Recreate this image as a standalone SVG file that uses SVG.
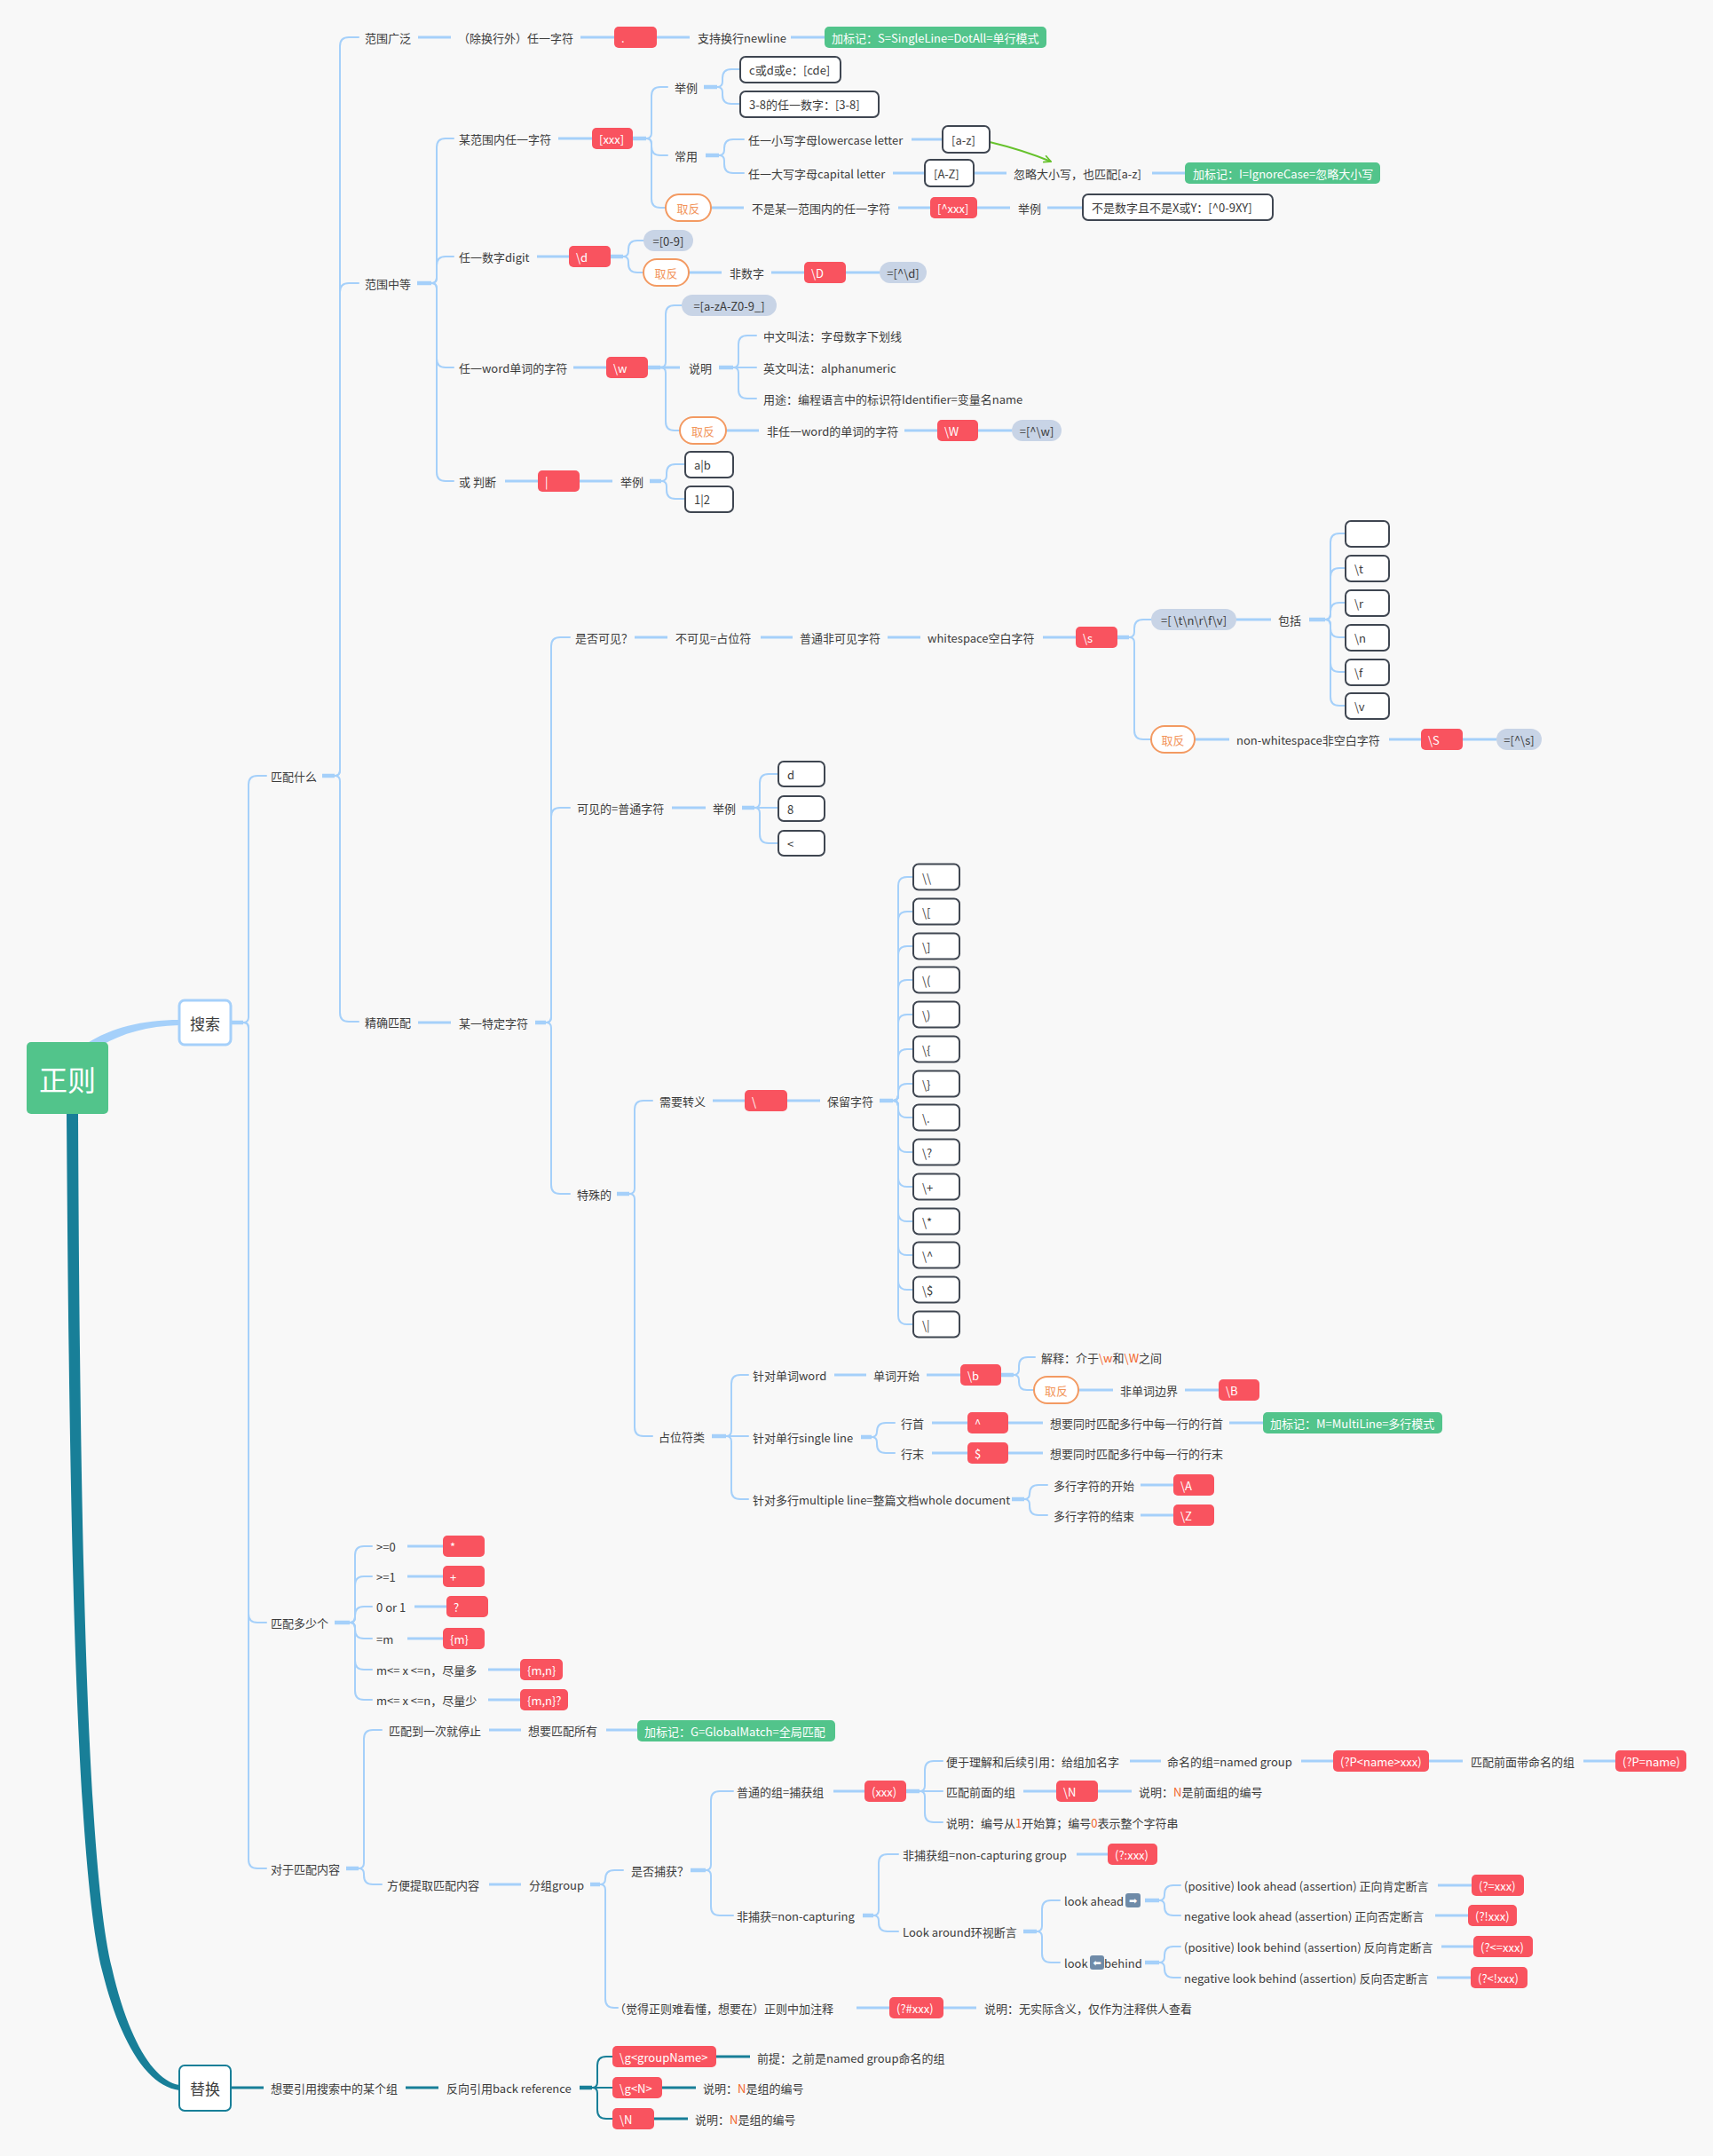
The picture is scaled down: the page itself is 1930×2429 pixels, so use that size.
<svg xmlns="http://www.w3.org/2000/svg" width="1930" height="2429" viewBox="0 0 1930 2429">
<defs>
<style>
text{font-family:"Noto Sans CJK SC","Noto Sans",sans-serif;font-size:13px;fill:#3c3c3c;dominant-baseline:central}
.w{fill:#fff}
.o{fill:#F2955B}
.hl{fill:#F2652B}
.m{text-anchor:middle}
.rb{fill:#F9535F}
.ob{fill:#fff;stroke:#3F4651;stroke-width:2}
.gp{fill:#C8D4E6}
.op{fill:#fff;stroke:#F39A62;stroke-width:2}
.gn{fill:#52C48B}
.ic{fill:#6F8BA8}
.c{fill:none;stroke:#A5D0FA;stroke-width:2;stroke-linecap:round}
.l{fill:none;stroke:#A5D0FA;stroke-width:3}
.s{fill:none;stroke:#A5D0FA;stroke-width:4.5}
.tc{stroke:#187F98}
</style>
<marker id="ga" viewBox="0 0 10 10" refX="9" refY="5" markerWidth="10" markerHeight="10" markerUnits="userSpaceOnUse" orient="auto"><path d="M1 1 L9 5 L1 9" fill="none" stroke="#66C22C" stroke-width="1.8"/></marker>
</defs>
<rect width="1930" height="2429" fill="#F8F8F8"/>

<g id="connectors">
<path d="M97 1176 C125 1158 160 1149 202 1149 L202 1155 C166 1156 138 1164 114 1178 Z" fill="#A5D0FA"/>
<path d="M75 1255 C78 1700 85 2100 115 2220 C135 2300 165 2350 202 2355 L202 2349 C172 2344 144 2296 126 2217 C97 2100 90 1700 88 1255 Z" fill="#187F98"/>
<!-- 搜索 -->
<path class="s" d="M260 1152 H274"/>
<path class="c" d="M274 1152 Q280 1152 280 1146 V884 Q280 874 290 874 H300"/>
<path class="c" d="M274 1152 Q280 1152 280 1158 V1818 Q280 1828 290 1828 H300"/>
<path class="c" d="M274 1152 Q280 1152 280 1158 V2095 Q280 2105 290 2105 H300"/>
<!-- 匹配什么 -->
<path class="s" d="M363 874 H377"/>
<path class="c" d="M377 874 Q383 874 383 868 V52 Q383 42 393 42 H404"/>
<path class="c" d="M377 874 Q383 874 383 868 V329 Q383 319 393 319 H404"/>
<path class="c" d="M377 874 Q383 874 383 880 V1141 Q383 1151 393 1151 H404"/>
<!-- 范围广泛 row -->
<path class="l" d="M471 42 H508"/>
<path class="l" d="M654 42 H692"/>
<path class="l" d="M740 42 H777"/>
<path class="l" d="M891 42 H929"/>
<!-- 范围中等 -->
<path class="s" d="M470 319 H486"/>
<path class="c" d="M486 319 Q492 319 492 313 V166 Q492 156 502 156 H511"/>
<path class="c" d="M486 319 Q492 319 492 313 V299 Q492 289 502 289 H511"/>
<path class="c" d="M486 319 Q492 319 492 325 V404 Q492 414 502 414 H511"/>
<path class="c" d="M486 319 Q492 319 492 325 V532 Q492 542 502 542 H511"/>
<!-- [xxx] -->
<path class="l" d="M629 156 H667"/>
<path class="s" d="M713 156 H728"/>
<path class="c" d="M728 156 Q734 156 734 150 V108 Q734 98 744 98 H752"/>
<path class="c" d="M728 156 Q734 156 734 162 V165 Q734 175 744 175 H752"/>
<path class="c" d="M728 156 Q734 156 734 162 V224 Q734 234 744 234 H750"/>
<path class="s" d="M793 98 H808"/>
<path class="c" d="M808 98 Q814 98 814 92 V88 Q814 78 824 78 H834"/>
<path class="c" d="M808 98 Q814 98 814 104 V107 Q814 117 824 117 H834"/>
<path class="s" d="M795 175 H810"/>
<path class="c" d="M810 175 Q816 175 816 169 V167 Q816 157 826 157 H838"/>
<path class="c" d="M810 175 Q816 175 816 181 V185 Q816 195 826 195 H838"/>
<path class="l" d="M1027 157 H1062"/>
<path class="l" d="M1006 195 H1042"/>
<path class="l" d="M1097 195 H1134"/>
<path class="l" d="M1298 195 H1335"/>
<path d="M1115 160 C1140 166 1160 172 1184 182" fill="none" stroke="#66C22C" stroke-width="2" marker-end="url(#ga)"/>
<path class="l" d="M801 234 H838"/>
<path class="l" d="M1012 234 H1048"/>
<path class="l" d="M1101 234 H1138"/>
<path class="l" d="M1180 234 H1220"/>
<!-- \d -->
<path class="l" d="M605 289 H641"/>
<path class="s" d="M688 289 H702"/>
<path class="c" d="M702 289 Q708 289 708 283 V281 Q708 271 718 271 H725"/>
<path class="c" d="M702 289 Q708 289 708 295 V297 Q708 307 718 307 H725"/>
<path class="l" d="M776 307 H813"/>
<path class="l" d="M869 307 H906"/>
<path class="l" d="M953 307 H991"/>
<!-- \w -->
<path class="l" d="M646 414 H683"/>
<path class="s" d="M730 414 H744"/>
<path class="c" d="M744 414 Q750 414 750 408 V354 Q750 344 760 344 H768"/>
<path class="l" d="M744 414 H766"/>
<path class="c" d="M744 414 Q750 414 750 420 V475 Q750 485 760 485 H766"/>
<path class="s" d="M810 414 H826"/>
<path class="c" d="M826 414 Q832 414 832 408 V388 Q832 378 842 378 H852"/>
<path class="c" d="M826 414 H852"/>
<path class="c" d="M826 414 Q832 414 832 420 V439 Q832 449 842 449 H852"/>
<path class="l" d="M818 485 H855"/>
<path class="l" d="M1019 485 H1056"/>
<path class="l" d="M1102 485 H1140"/>
<!-- 或 判断 -->
<path class="l" d="M569 542 H606"/>
<path class="l" d="M653 542 H690"/>
<path class="s" d="M732 542 H745"/>
<path class="c" d="M745 542 Q751 542 751 536 V533 Q751 523 761 523 H772"/>
<path class="c" d="M745 542 Q751 542 751 548 V552 Q751 562 761 562 H772"/>
<!-- 精确匹配 -->
<path class="l" d="M471 1152 H508"/>
<path class="s" d="M603 1152 H615"/>
<path class="c" d="M615 1152 Q621 1152 621 1146 V728 Q621 718 631 718 H642"/>
<path class="c" d="M615 1152 Q621 1152 621 1146 V920 Q621 910 631 910 H642"/>
<path class="c" d="M615 1152 Q621 1152 621 1158 V1335 Q621 1345 631 1345 H642"/>
<!-- 是否可见 -->
<path class="l" d="M715 718 H752"/>
<path class="l" d="M857 718 H893"/>
<path class="l" d="M1000 718 H1037"/>
<path class="l" d="M1175 718 H1212"/>
<path class="s" d="M1259 718 H1272"/>
<path class="c" d="M1272 718 Q1278 718 1278 712 V708 Q1278 698 1288 698 H1297"/>
<path class="c" d="M1272 718 Q1278 718 1278 724 V823 Q1278 833 1288 833 H1297"/>
<path class="l" d="M1393 698 H1432"/>
<path class="s" d="M1475 698 H1493"/>
<path class="c" d="M1493 698 Q1499 698 1499 692 V611 Q1499 601 1509 601 H1516"/>
<path class="c" d="M1493 698 Q1499 698 1499 692 V650 Q1499 640 1509 640 H1516"/>
<path class="c" d="M1493 698 Q1499 698 1499 692 V689 Q1499 679 1509 679 H1516"/>
<path class="c" d="M1493 698 Q1499 698 1499 704 V708 Q1499 718 1509 718 H1516"/>
<path class="c" d="M1493 698 Q1499 698 1499 704 V747 Q1499 757 1509 757 H1516"/>
<path class="c" d="M1493 698 Q1499 698 1499 704 V785 Q1499 795 1509 795 H1516"/>
<path class="l" d="M1346 833 H1385"/>
<path class="l" d="M1565 833 H1601"/>
<path class="l" d="M1648 833 H1686"/>
<!-- 可见的 -->
<path class="l" d="M757 910 H795"/>
<path class="s" d="M836 910 H850"/>
<path class="c" d="M850 910 Q856 910 856 904 V882 Q856 872 866 872 H877"/>
<path class="c" d="M850 910 H877"/>
<path class="c" d="M850 910 Q856 910 856 916 V940 Q856 950 866 950 H877"/>
<!-- 特殊的 -->
<path class="s" d="M695 1345 H709"/>
<path class="c" d="M709 1345 Q715 1345 715 1339 V1250 Q715 1240 725 1240 H735"/>
<path class="c" d="M709 1345 Q715 1345 715 1351 V1608 Q715 1618 725 1618 H735"/>
<path class="l" d="M803 1240 H839"/>
<path class="l" d="M887 1240 H924"/>
<path class="s" d="M991 1240 H1006"/>
<path class="c" d="M1006 1240 Q1012 1240 1012 1234 V998 Q1012 988 1022 988 H1029"/>
<path class="c" d="M1006 1240 Q1012 1240 1012 1234 V1037 Q1012 1027 1022 1027 H1029"/>
<path class="c" d="M1006 1240 Q1012 1240 1012 1234 V1076 Q1012 1066 1022 1066 H1029"/>
<path class="c" d="M1006 1240 Q1012 1240 1012 1234 V1114 Q1012 1104 1022 1104 H1029"/>
<path class="c" d="M1006 1240 Q1012 1240 1012 1234 V1153 Q1012 1143 1022 1143 H1029"/>
<path class="c" d="M1006 1240 Q1012 1240 1012 1234 V1192 Q1012 1182 1022 1182 H1029"/>
<path class="c" d="M1006 1240 Q1012 1240 1012 1234 V1231 Q1012 1221 1022 1221 H1029"/>
<path class="c" d="M1006 1240 Q1012 1240 1012 1246 V1249 Q1012 1259 1022 1259 H1029"/>
<path class="c" d="M1006 1240 Q1012 1240 1012 1246 V1288 Q1012 1298 1022 1298 H1029"/>
<path class="c" d="M1006 1240 Q1012 1240 1012 1246 V1327 Q1012 1337 1022 1337 H1029"/>
<path class="c" d="M1006 1240 Q1012 1240 1012 1246 V1366 Q1012 1376 1022 1376 H1029"/>
<path class="c" d="M1006 1240 Q1012 1240 1012 1246 V1404 Q1012 1414 1022 1414 H1029"/>
<path class="c" d="M1006 1240 Q1012 1240 1012 1246 V1443 Q1012 1453 1022 1453 H1029"/>
<path class="c" d="M1006 1240 Q1012 1240 1012 1246 V1482 Q1012 1492 1022 1492 H1029"/>
<!-- 占位符类 -->
<path class="s" d="M802 1618 H818"/>
<path class="c" d="M818 1618 Q824 1618 824 1612 V1559 Q824 1549 834 1549 H843"/>
<path class="c" d="M818 1618 H843"/>
<path class="c" d="M818 1618 Q824 1618 824 1624 V1679 Q824 1689 834 1689 H843"/>
<path class="l" d="M940 1549 H976"/>
<path class="l" d="M1044 1549 H1082"/>
<path class="s" d="M1128 1549 H1142"/>
<path class="c" d="M1142 1549 Q1148 1549 1148 1543 V1539 Q1148 1529 1158 1529 H1166"/>
<path class="c" d="M1142 1549 Q1148 1549 1148 1555 V1557 Q1148 1566 1157 1566 H1165"/>
<path class="l" d="M1215 1566 H1254"/>
<path class="l" d="M1335 1566 H1373"/>
<path class="s" d="M970 1619 H982"/>
<path class="c" d="M982 1619 Q988 1619 988 1613 Q988 1603 998 1603 H1008"/>
<path class="c" d="M982 1619 Q988 1619 988 1625 V1627 Q988 1637 998 1637 H1008"/>
<path class="l" d="M1050 1603 H1090"/>
<path class="l" d="M1136 1603 H1175"/>
<path class="l" d="M1385 1603 H1423"/>
<path class="l" d="M1050 1637 H1090"/>
<path class="l" d="M1136 1637 H1175"/>
<path class="s" d="M1140 1689 H1154"/>
<path class="c" d="M1154 1689 Q1160 1689 1160 1683 Q1160 1673 1170 1673 H1180"/>
<path class="c" d="M1154 1689 Q1160 1689 1160 1695 V1697 Q1160 1707 1170 1707 H1180"/>
<path class="l" d="M1285 1673 H1322"/>
<path class="l" d="M1285 1707 H1322"/>
<!-- 匹配多少个 -->
<path class="s" d="M377 1828 H394"/>
<path class="c" d="M394 1828 Q400 1828 400 1822 V1752 Q400 1742 410 1742 H419"/>
<path class="c" d="M394 1828 Q400 1828 400 1822 V1786 Q400 1776 410 1776 H419"/>
<path class="c" d="M394 1828 Q400 1828 400 1822 V1820 Q400 1810 410 1810 H419"/>
<path class="c" d="M394 1828 Q400 1828 400 1834 V1836 Q400 1846 410 1846 H419"/>
<path class="c" d="M394 1828 Q400 1828 400 1834 V1871 Q400 1881 410 1881 H419"/>
<path class="c" d="M394 1828 Q400 1828 400 1834 V1905 Q400 1915 410 1915 H419"/>
<path class="l" d="M459 1742 H499"/>
<path class="l" d="M459 1776 H499"/>
<path class="l" d="M467 1810 H503"/>
<path class="l" d="M459 1846 H499"/>
<path class="l" d="M550 1881 H586"/>
<path class="l" d="M550 1915 H586"/>
<!-- 对于匹配内容 -->
<path class="s" d="M390 2105 H404"/>
<path class="c" d="M404 2105 Q410 2105 410 2099 V1959 Q410 1949 420 1949 H430"/>
<path class="c" d="M404 2105 Q410 2105 410 2111 V2113 Q410 2123 420 2123 H430"/>
<path class="l" d="M551 1949 H587"/>
<path class="l" d="M683 1949 H718"/>
<path class="l" d="M551 2123 H587"/>
<path class="s" d="M665 2123 H676"/>
<path class="c" d="M676 2123 Q682 2123 682 2117 Q682 2107 692 2107 H702"/>
<path class="c" d="M676 2123 Q682 2123 682 2129 V2252 Q682 2262 692 2262 H696"/>
<path class="s" d="M778 2107 H795"/>
<path class="c" d="M795 2107 Q801 2107 801 2101 V2028 Q801 2018 811 2018 H826"/>
<path class="c" d="M795 2107 Q801 2107 801 2113 V2148 Q801 2158 811 2158 H826"/>
<path class="l" d="M939 2018 H974"/>
<path class="s" d="M1021 2018 H1036"/>
<path class="c" d="M1036 2018 Q1042 2018 1042 2012 V1994 Q1042 1984 1052 1984 H1062"/>
<path class="c" d="M1036 2018 H1062"/>
<path class="c" d="M1036 2018 Q1042 2018 1042 2024 V2043 Q1042 2053 1052 2053 H1062"/>
<path class="l" d="M1273 1984 H1308"/>
<path class="l" d="M1466 1984 H1502"/>
<path class="l" d="M1610 1984 H1648"/>
<path class="l" d="M1784 1984 H1820"/>
<path class="l" d="M1153 2018 H1190"/>
<path class="l" d="M1237 2018 H1275"/>
<path class="s" d="M972 2158 H984"/>
<path class="c" d="M984 2158 Q990 2158 990 2152 V2099 Q990 2089 1000 2089 H1012"/>
<path class="c" d="M984 2158 Q990 2158 990 2164 V2166 Q990 2176 1000 2176 H1012"/>
<path class="l" d="M1213 2089 H1248"/>
<path class="s" d="M1153 2176 H1168"/>
<path class="c" d="M1168 2176 Q1174 2176 1174 2170 V2151 Q1174 2141 1184 2141 H1194"/>
<path class="c" d="M1168 2176 Q1174 2176 1174 2182 V2201 Q1174 2211 1184 2211 H1194"/>
<path class="s" d="M1290 2141 H1306"/>
<path class="c" d="M1306 2141 Q1312 2141 1312 2135 V2134 Q1312 2124 1322 2124 H1330"/>
<path class="c" d="M1306 2141 Q1312 2141 1312 2147 V2148 Q1312 2158 1322 2158 H1330"/>
<path class="s" d="M1290 2211 H1306"/>
<path class="c" d="M1306 2211 Q1312 2211 1312 2205 V2203 Q1312 2193 1322 2193 H1330"/>
<path class="c" d="M1306 2211 Q1312 2211 1312 2217 V2218 Q1312 2228 1322 2228 H1330"/>
<path class="l" d="M1620 2124 H1658"/>
<path class="l" d="M1617 2158 H1654"/>
<path class="l" d="M1624 2193 H1660"/>
<path class="l" d="M1619 2228 H1657"/>
<path class="l" d="M965 2262 H1002"/>
<path class="l" d="M1063 2262 H1100"/>
<!-- 替换 -->
<path class="l tc" d="M260 2352 H297"/>
<path class="l tc" d="M457 2352 H494"/>
<path class="s tc" d="M653 2352 H667"/>
<path class="c tc" d="M667 2352 Q673 2352 673 2346 V2327 Q673 2317 683 2317 H690"/>
<path class="c tc" d="M667 2352 H690"/>
<path class="c tc" d="M667 2352 Q673 2352 673 2358 V2377 Q673 2387 683 2387 H690"/>
<path class="l tc" d="M807 2317 H845"/>
<path class="l tc" d="M746 2352 H784"/>
<path class="l tc" d="M737 2387 H775"/>
</g>

<g id="root"><rect x="30" y="1174" width="92" height="81" rx="5" fill="#52C48B"/><text x="76" y="1215" class="w m" style="font-size:32px">正则</text></g>
<g id="search"><rect x="202" y="1127" width="58" height="50" rx="6" fill="#fff" stroke="#A5D0FA" stroke-width="3"/><text x="231" y="1152" class="m" style="font-size:17px">搜索</text></g>
<g id="replace"><rect x="202" y="2327" width="58" height="51" rx="6" fill="#fff" stroke="#187F98" stroke-width="2"/><text x="231" y="2352" class="m" style="font-size:17px">替换</text></g>

<g id="n-what"><text x="305" y="874">匹配什么</text></g>
<g id="n-wide"><text x="411" y="42">范围广泛</text></g>
<g id="n-anychar"><text x="516" y="42">（除换行外）任一字符</text></g>
<g id="n-dot"><rect class="rb" x="692" y="30" width="48" height="24" rx="5"/><text class="w" x="700" y="42">.</text></g>
<g id="n-newline"><text x="786" y="42">支持换行newline</text></g>
<g id="n-tagS"><rect class="gn" x="929" y="30" width="250" height="24" rx="5"/><text class="w" x="937" y="42">加标记：S=SingleLine=DotAll=单行模式</text></g>

<g id="n-mid"><text x="411" y="319">范围中等</text></g>
<g id="n-range"><text x="517" y="156">某范围内任一字符</text></g>
<g id="n-xxx"><rect class="rb" x="667" y="144" width="46" height="24" rx="5"/><text class="w" x="675" y="156">[xxx]</text></g>
<g id="n-eg1"><text x="760" y="98">举例</text></g>
<g id="n-cde"><rect class="ob" x="834" y="64" width="113" height="29" rx="6"/><text x="844" y="78.5">c或d或e：[cde]</text></g>
<g id="n-38"><rect class="ob" x="834" y="103" width="156" height="29" rx="6"/><text x="844" y="117.5">3-8的任一数字：[3-8]</text></g>
<g id="n-common"><text x="760" y="175">常用</text></g>
<g id="n-lower"><text x="843" y="157">任一小写字母lowercase letter</text></g>
<g id="n-upper"><text x="843" y="195">任一大写字母capital letter</text></g>
<g id="n-az"><rect class="ob" x="1062" y="142" width="53" height="30" rx="6"/><text x="1072" y="157">[a-z]</text></g>
<g id="n-AZ"><rect class="ob" x="1042" y="180" width="55" height="30" rx="6"/><text x="1052" y="195">[A-Z]</text></g>
<g id="n-ignore"><text x="1142" y="195">忽略大小写，也匹配[a-z]</text></g>
<g id="n-tagI"><rect class="gn" x="1335" y="183" width="220" height="24" rx="5"/><text class="w" x="1344" y="195">加标记：I=IgnoreCase=忽略大小写</text></g>
<g id="n-neg1"><rect class="op" x="750" y="219" width="51" height="30" rx="15"/><text class="o m" x="775.5" y="234">取反</text></g>
<g id="n-notrange"><text x="847" y="234">不是某一范围内的任一字符</text></g>
<g id="n-nxxx"><rect class="rb" x="1048" y="222" width="53" height="24" rx="5"/><text class="w" x="1056" y="234">[^xxx]</text></g>
<g id="n-eg2"><text x="1147" y="234">举例</text></g>
<g id="n-n09"><rect class="ob" x="1220" y="219" width="214" height="29" rx="6"/><text x="1230" y="233.5">不是数字且不是X或Y：[^0-9XY]</text></g>

<g id="n-digit"><text x="517" y="289">任一数字digit</text></g>
<g id="n-d"><rect class="rb" x="641" y="277" width="47" height="24" rx="5"/><text class="w" x="649" y="289">\d</text></g>
<g id="n-09"><rect class="gp" x="725" y="259" width="56" height="24" rx="12"/><text class="m" x="753" y="271">=[0-9]</text></g>
<g id="n-neg2"><rect class="op" x="725" y="292" width="51" height="30" rx="15"/><text class="o m" x="750.5" y="307">取反</text></g>
<g id="n-nondigit"><text x="822" y="307">非数字</text></g>
<g id="n-D"><rect class="rb" x="906" y="295" width="47" height="24" rx="5"/><text class="w" x="914" y="307">\D</text></g>
<g id="n-nd"><rect class="gp" x="991" y="295" width="53" height="24" rx="12"/><text class="m" x="1017.5" y="307">=[^\d]</text></g>

<g id="n-word"><text x="517" y="414">任一word单词的字符</text></g>
<g id="n-w"><rect class="rb" x="683" y="402" width="47" height="24" rx="5"/><text class="w" x="691" y="414">\w</text></g>
<g id="n-wset"><rect class="gp" x="768" y="332" width="107" height="24" rx="12"/><text class="m" x="821.5" y="344">=[a-zA-Z0-9_]</text></g>
<g id="n-desc"><text x="776" y="414">说明</text></g>
<g id="n-cn"><text x="860" y="378">中文叫法：字母数字下划线</text></g>
<g id="n-en"><text x="860" y="414">英文叫法：alphanumeric</text></g>
<g id="n-use"><text x="860" y="449">用途：编程语言中的标识符Identifier=变量名name</text></g>
<g id="n-neg3"><rect class="op" x="766" y="470" width="52" height="30" rx="15"/><text class="o m" x="792" y="485">取反</text></g>
<g id="n-nonword"><text x="864" y="485">非任一word的单词的字符</text></g>
<g id="n-W"><rect class="rb" x="1056" y="473" width="46" height="24" rx="5"/><text class="w" x="1064" y="485">\W</text></g>
<g id="n-nw"><rect class="gp" x="1140" y="473" width="56" height="24" rx="12"/><text class="m" x="1168" y="485">=[^\w]</text></g>

<g id="n-or"><text x="517" y="542">或 判断</text></g>
<g id="n-bar"><rect class="rb" x="606" y="530" width="47" height="24" rx="5"/><text class="w" x="614" y="542">|</text></g>
<g id="n-eg3"><text x="699" y="542">举例</text></g>
<g id="n-ab"><rect class="ob" x="772" y="509" width="54" height="29" rx="6"/><text x="782" y="523.5">a|b</text></g>
<g id="n-12"><rect class="ob" x="772" y="548" width="54" height="29" rx="6"/><text x="782" y="562.5">1|2</text></g>

<g id="n-exact"><text x="411" y="1151">精确匹配</text></g>
<g id="n-specific"><text x="517" y="1152">某一特定字符</text></g>
<g id="n-visible"><text x="648" y="718">是否可见？</text></g>
<g id="n-invis"><text x="761" y="718">不可见=占位符</text></g>
<g id="n-normalinvis"><text x="901" y="718">普通非可见字符</text></g>
<g id="n-ws"><text x="1045" y="718">whitespace空白字符</text></g>
<g id="n-s"><rect class="rb" x="1212" y="706" width="47" height="24" rx="5"/><text class="w" x="1220" y="718">\s</text></g>
<g id="n-sset"><rect class="gp" x="1297" y="686" width="96" height="24" rx="12"/><text class="m" x="1345" y="698">=[&#160;\t\n\r\f\v]</text></g>
<g id="n-incl"><text x="1440" y="698">包括</text></g>
<g id="n-sp"><rect class="ob" x="1516" y="587" width="49" height="29" rx="6"/></g>
<g id="n-t"><rect class="ob" x="1516" y="626" width="49" height="29" rx="6"/><text x="1526" y="640.5">\t</text></g>
<g id="n-r"><rect class="ob" x="1516" y="665" width="49" height="29" rx="6"/><text x="1526" y="679.5">\r</text></g>
<g id="n-n"><rect class="ob" x="1516" y="704" width="49" height="29" rx="6"/><text x="1526" y="718.5">\n</text></g>
<g id="n-f"><rect class="ob" x="1516" y="743" width="49" height="29" rx="6"/><text x="1526" y="757.5">\f</text></g>
<g id="n-v"><rect class="ob" x="1516" y="781" width="49" height="29" rx="6"/><text x="1526" y="795.5">\v</text></g>
<g id="n-neg4"><rect class="op" x="1297" y="818" width="49" height="30" rx="15"/><text class="o m" x="1321.5" y="833">取反</text></g>
<g id="n-nonws"><text x="1393" y="833">non-whitespace非空白字符</text></g>
<g id="n-S"><rect class="rb" x="1601" y="821" width="47" height="24" rx="5"/><text class="w" x="1609" y="833">\S</text></g>
<g id="n-ns"><rect class="gp" x="1686" y="821" width="51" height="24" rx="12"/><text class="m" x="1711.5" y="833">=[^\s]</text></g>

<g id="n-vis"><text x="650" y="910">可见的=普通字符</text></g>
<g id="n-eg4"><text x="803" y="910">举例</text></g>
<g id="n-vd"><rect class="ob" x="877" y="858" width="52" height="28" rx="6"/><text x="887" y="872">d</text></g>
<g id="n-v8"><rect class="ob" x="877" y="897" width="52" height="28" rx="6"/><text x="887" y="911">8</text></g>
<g id="n-vlt"><rect class="ob" x="877" y="936" width="52" height="28" rx="6"/><text x="887" y="950">&lt;</text></g>

<g id="n-special"><text x="650" y="1345">特殊的</text></g>
<g id="n-escape"><text x="743" y="1240">需要转义</text></g>
<g id="n-bs"><rect class="rb" x="839" y="1228" width="48" height="24" rx="5"/><text class="w" x="847" y="1240">\</text></g>
<g id="n-reserved"><text x="932" y="1240">保留字符</text></g>
<g id="e1"><rect class="ob" x="1029" y="973.5" width="52" height="29" rx="6"/><text x="1039" y="988">\\</text></g>
<g id="e2"><rect class="ob" x="1029" y="1012.5" width="52" height="29" rx="6"/><text x="1039" y="1027">\[</text></g>
<g id="e3"><rect class="ob" x="1029" y="1051.5" width="52" height="29" rx="6"/><text x="1039" y="1066">\]</text></g>
<g id="e4"><rect class="ob" x="1029" y="1089.5" width="52" height="29" rx="6"/><text x="1039" y="1104">\(</text></g>
<g id="e5"><rect class="ob" x="1029" y="1128.5" width="52" height="29" rx="6"/><text x="1039" y="1143">\)</text></g>
<g id="e6"><rect class="ob" x="1029" y="1167.5" width="52" height="29" rx="6"/><text x="1039" y="1182">\{</text></g>
<g id="e7"><rect class="ob" x="1029" y="1206.5" width="52" height="29" rx="6"/><text x="1039" y="1221">\}</text></g>
<g id="e8"><rect class="ob" x="1029" y="1244.5" width="52" height="29" rx="6"/><text x="1039" y="1259">\.</text></g>
<g id="e9"><rect class="ob" x="1029" y="1283.5" width="52" height="29" rx="6"/><text x="1039" y="1298">\?</text></g>
<g id="e10"><rect class="ob" x="1029" y="1322.5" width="52" height="29" rx="6"/><text x="1039" y="1337">\+</text></g>
<g id="e11"><rect class="ob" x="1029" y="1361.5" width="52" height="29" rx="6"/><text x="1039" y="1376">\*</text></g>
<g id="e12"><rect class="ob" x="1029" y="1399.5" width="52" height="29" rx="6"/><text x="1039" y="1414">\^</text></g>
<g id="e13"><rect class="ob" x="1029" y="1438.5" width="52" height="29" rx="6"/><text x="1039" y="1453">\$</text></g>
<g id="e14"><rect class="ob" x="1029" y="1477.5" width="52" height="29" rx="6"/><text x="1039" y="1492">\|</text></g>

<g id="n-anchor"><text x="742" y="1618">占位符类</text></g>
<g id="n-forword"><text x="848" y="1549">针对单词word</text></g>
<g id="n-wordstart"><text x="984" y="1549">单词开始</text></g>
<g id="n-b"><rect class="rb" x="1082" y="1537" width="46" height="24" rx="5"/><text class="w" x="1090" y="1549">\b</text></g>
<g id="n-bexpl"><text x="1173" y="1529">解释：介于<tspan class="hl">\w</tspan>和<tspan class="hl">\W</tspan>之间</text></g>
<g id="n-neg5"><rect class="op" x="1165" y="1551" width="50" height="30" rx="15"/><text class="o m" x="1190" y="1566">取反</text></g>
<g id="n-nonb"><text x="1262" y="1566">非单词边界</text></g>
<g id="n-B"><rect class="rb" x="1373" y="1554" width="46" height="24" rx="5"/><text class="w" x="1381" y="1566">\B</text></g>
<g id="n-single"><text x="848" y="1619">针对单行single line</text></g>
<g id="n-linestart"><text x="1015" y="1603">行首</text></g>
<g id="n-caret"><rect class="rb" x="1090" y="1591" width="46" height="24" rx="5"/><text class="w" x="1098" y="1603">^</text></g>
<g id="n-mlstart"><text x="1183" y="1603">想要同时匹配多行中每一行的行首</text></g>
<g id="n-tagM"><rect class="gn" x="1423" y="1591" width="202" height="24" rx="5"/><text class="w" x="1431" y="1603">加标记：M=MultiLine=多行模式</text></g>
<g id="n-lineend"><text x="1015" y="1637">行末</text></g>
<g id="n-dollar"><rect class="rb" x="1090" y="1625" width="46" height="24" rx="5"/><text class="w" x="1098" y="1637">$</text></g>
<g id="n-mlend"><text x="1183" y="1637">想要同时匹配多行中每一行的行末</text></g>
<g id="n-multi"><text x="848" y="1689">针对多行multiple line=整篇文档whole document</text></g>
<g id="n-docstart"><text x="1187" y="1673">多行字符的开始</text></g>
<g id="n-A"><rect class="rb" x="1322" y="1661" width="46" height="24" rx="5"/><text class="w" x="1330" y="1673">\A</text></g>
<g id="n-docend"><text x="1187" y="1707">多行字符的结束</text></g>
<g id="n-Z"><rect class="rb" x="1322" y="1695" width="46" height="24" rx="5"/><text class="w" x="1330" y="1707">\Z</text></g>

<g id="n-count"><text x="305" y="1828">匹配多少个</text></g>
<g id="q1"><text x="424" y="1742">&gt;=0</text></g>
<g id="q1b"><rect class="rb" x="499" y="1730" width="47" height="24" rx="5"/><text class="w" x="507" y="1742">*</text></g>
<g id="q2"><text x="424" y="1776">&gt;=1</text></g>
<g id="q2b"><rect class="rb" x="499" y="1764" width="47" height="24" rx="5"/><text class="w" x="507" y="1776">+</text></g>
<g id="q3"><text x="424" y="1810">0 or 1</text></g>
<g id="q3b"><rect class="rb" x="503" y="1798" width="47" height="24" rx="5"/><text class="w" x="511" y="1810">?</text></g>
<g id="q4"><text x="424" y="1846">=m</text></g>
<g id="q4b"><rect class="rb" x="499" y="1834" width="47" height="24" rx="5"/><text class="w" x="507" y="1846">{m}</text></g>
<g id="q5"><text x="424" y="1881">m&lt;= x &lt;=n，尽量多</text></g>
<g id="q5b"><rect class="rb" x="586" y="1869" width="48" height="24" rx="5"/><text class="w" x="594" y="1881">{m,n}</text></g>
<g id="q6"><text x="424" y="1915">m&lt;= x &lt;=n，尽量少</text></g>
<g id="q6b"><rect class="rb" x="586" y="1903" width="54" height="24" rx="5"/><text class="w" x="594" y="1915">{m,n}?</text></g>

<g id="n-content"><text x="305" y="2105">对于匹配内容</text></g>
<g id="n-stop"><text x="438" y="1949">匹配到一次就停止</text></g>
<g id="n-all"><text x="595" y="1949">想要匹配所有</text></g>
<g id="n-tagG"><rect class="gn" x="718" y="1938" width="223" height="24" rx="5"/><text class="w" x="726" y="1950">加标记：G=GlobalMatch=全局匹配</text></g>
<g id="n-extract"><text x="436" y="2123">方便提取匹配内容</text></g>
<g id="n-group"><text x="596" y="2123">分组group</text></g>
<g id="n-capture"><text x="711" y="2107">是否捕获？</text></g>
<g id="n-capgroup"><text x="830" y="2018">普通的组=捕获组</text></g>
<g id="n-paren"><rect class="rb" x="974" y="2006" width="47" height="24" rx="5"/><text class="w" x="982" y="2018">(xxx)</text></g>
<g id="n-easy"><text x="1066" y="1984">便于理解和后续引用：给组加名字</text></g>
<g id="n-named"><text x="1315" y="1984">命名的组=named group</text></g>
<g id="n-Pname"><rect class="rb" x="1502" y="1972" width="108" height="24" rx="5"/><text class="w" x="1510" y="1984">(?P&lt;name&gt;xxx)</text></g>
<g id="n-matchnamed"><text x="1657" y="1984">匹配前面带命名的组</text></g>
<g id="n-Peq"><rect class="rb" x="1820" y="1972" width="80" height="24" rx="5"/><text class="w" x="1828" y="1984">(?P=name)</text></g>
<g id="n-matchprev"><text x="1066" y="2018">匹配前面的组</text></g>
<g id="n-N1"><rect class="rb" x="1190" y="2006" width="47" height="24" rx="5"/><text class="w" x="1198" y="2018">\N</text></g>
<g id="n-Ndesc1"><text x="1283" y="2018">说明：<tspan class="hl">N</tspan>是前面组的编号</text></g>
<g id="n-numdesc"><text x="1066" y="2053">说明：编号从<tspan class="hl">1</tspan>开始算；编号<tspan class="hl">0</tspan>表示整个字符串</text></g>
<g id="n-noncap"><text x="830" y="2158">非捕获=non-capturing</text></g>
<g id="n-noncapgroup"><text x="1017" y="2089">非捕获组=non-capturing group</text></g>
<g id="n-qcolon"><rect class="rb" x="1248" y="2077" width="56" height="24" rx="5"/><text class="w" x="1256" y="2089">(?:xxx)</text></g>
<g id="n-lookaround"><text x="1017" y="2176">Look around环视断言</text></g>
<g id="n-ahead"><text x="1199" y="2141">look ahead</text><rect class="ic" x="1268" y="2133" width="17" height="16" rx="3"/><text class="w m" x="1276.5" y="2141" style="font-family:'DejaVu Sans',sans-serif;font-size:11px">➡</text></g>
<g id="n-behind"><text x="1199" y="2211">look</text><rect class="ic" x="1228" y="2203" width="16" height="16" rx="3"/><text class="w m" x="1236" y="2211" style="font-family:'DejaVu Sans',sans-serif;font-size:11px">⬅</text><text x="1244" y="2211">behind</text></g>
<g id="n-pa"><text x="1334" y="2124">(positive) look ahead (assertion) 正向肯定断言</text></g>
<g id="n-pab"><rect class="rb" x="1658" y="2112" width="59" height="24" rx="5"/><text class="w" x="1666" y="2124">(?=xxx)</text></g>
<g id="n-na"><text x="1334" y="2158">negative look ahead (assertion) 正向否定断言</text></g>
<g id="n-nab"><rect class="rb" x="1654" y="2146" width="55" height="24" rx="5"/><text class="w" x="1662" y="2158">(?!xxx)</text></g>
<g id="n-pb"><text x="1334" y="2193">(positive) look behind (assertion) 反向肯定断言</text></g>
<g id="n-pbb"><rect class="rb" x="1660" y="2181" width="67" height="24" rx="5"/><text class="w" x="1668" y="2193">(?&lt;=xxx)</text></g>
<g id="n-nb"><text x="1334" y="2228">negative look behind (assertion) 反向否定断言</text></g>
<g id="n-nbb"><rect class="rb" x="1657" y="2216" width="64" height="24" rx="5"/><text class="w" x="1665" y="2228">(?&lt;!xxx)</text></g>
<g id="n-comment"><text x="692" y="2262">（觉得正则难看懂，想要在）正则中加注释</text></g>
<g id="n-hash"><rect class="rb" x="1002" y="2250" width="61" height="24" rx="5"/><text class="w" x="1010" y="2262">(?#xxx)</text></g>
<g id="n-hashdesc"><text x="1109" y="2262">说明：无实际含义，仅作为注释供人查看</text></g>

<g id="n-refgroup"><text x="305" y="2352">想要引用搜索中的某个组</text></g>
<g id="n-backref"><text x="503" y="2352">反向引用back reference</text></g>
<g id="n-gname"><rect class="rb" x="690" y="2305" width="117" height="24" rx="5"/><text class="w" x="698" y="2317">\g&lt;groupName&gt;</text></g>
<g id="n-gnamedesc"><text x="853" y="2318">前提：之前是named group命名的组</text></g>
<g id="n-gN"><rect class="rb" x="690" y="2340" width="56" height="24" rx="5"/><text class="w" x="698" y="2352">\g&lt;N&gt;</text></g>
<g id="n-gNdesc"><text x="792" y="2352">说明：<tspan class="hl">N</tspan>是组的编号</text></g>
<g id="n-N2"><rect class="rb" x="690" y="2375" width="47" height="24" rx="5"/><text class="w" x="698" y="2387">\N</text></g>
<g id="n-N2desc"><text x="783" y="2387">说明：<tspan class="hl">N</tspan>是组的编号</text></g>
</svg>
